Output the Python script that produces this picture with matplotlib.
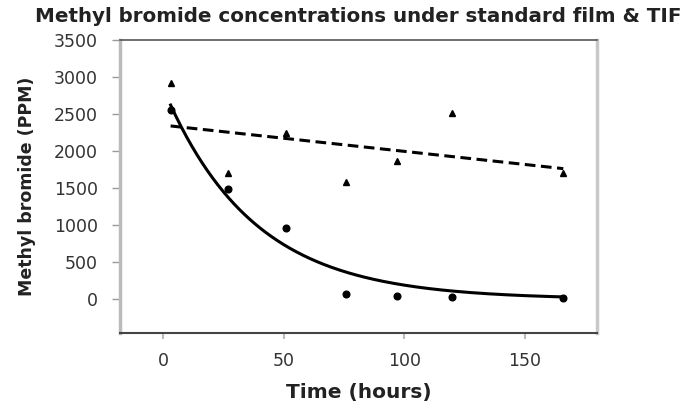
import numpy as np
import matplotlib
matplotlib.use("Agg")
import matplotlib.pyplot as plt

# Veri
saat = np.array([3, 27, 51, 76, 97, 120, 166])
tif = np.array([2923, 1707, 2247, 1581, 1869, 2509, 1707])       # üçgenler
standart = np.array([2554, 1482, 963, 77, 40, 31, 14])           # daireler

x_ticks = [0, 50, 100, 150]
y_ticks = [0, 500, 1000, 1500, 2000, 2500, 3000, 3500]

# Trend çizgileri: TIF için doğrusal, standart film için üstel
egim, kesen = np.polyfit(saat, tif, 1)

# a*exp(-k t) en küçük kareler (k için tarama, a kapalı form)
en_iyi = None
for k in np.linspace(0.001, 0.1, 2000):
    e = np.exp(-k * saat)
    a = (e @ standart) / (e @ e)
    hata = np.sum((standart - a * e) ** 2)
    if en_iyi is None or hata < en_iyi[0]:
        en_iyi = (hata, a, k)
_, a_fit, k_fit = en_iyi

t = np.linspace(saat.min(), saat.max(), 300)

fig = plt.figure(figsize=(6.93, 4.08), dpi=100)
ax = fig.add_axes([0.1732, 0.1838, 0.6883, 0.7182])

ax.plot(t, egim * t + kesen, color="black", lw=2.2, dashes=(3.5, 1.8))
ax.plot(t, a_fit * np.exp(-k_fit * t), color="black", lw=2.2)
ax.plot(saat, tif, "^", color="black", markersize=5, linestyle="none")
ax.plot(saat, standart, "o", color="black", markersize=4.8, linestyle="none")

ax.set_xlim(-18, 180)
ax.set_ylim(-455, 3500)
ax.set_xticks(x_ticks)
ax.set_yticks(y_ticks)

for lbl in ax.get_xticklabels() + ax.get_yticklabels():
    lbl.set_fontsize(12.5)
    lbl.set_color("#333333")
ax.tick_params(axis="y", direction="out", length=6, width=1, color="#999999", pad=10)
ax.tick_params(axis="x", direction="out", length=4, width=1.5, color="#bbbbbb", pad=10)

ax.spines["top"].set_color("#555555")
ax.spines["top"].set_linewidth(1.2)
ax.spines["bottom"].set_color("#444444")
ax.spines["bottom"].set_linewidth(1.5)
ax.spines["left"].set_color("#bbbbbb")
ax.spines["left"].set_linewidth(2.5)
ax.spines["right"].set_color("#c8c8c8")
ax.spines["right"].set_linewidth(2.5)

ax.set_title("Methyl bromide concentrations under standard film & TIF",
             fontsize=14.3, fontweight="bold", color="#222222", pad=13)
ax.set_xlabel("Time (hours)", fontsize=14.5, fontweight="bold", color="#222222")
ax.set_ylabel("Methyl bromide (PPM)", fontsize=12.5, fontweight="bold", color="#222222")
ax.xaxis.set_label_coords(0.5, -0.17)
ax.yaxis.set_label_coords(-0.176, 0.5)

plt.savefig("out.png", dpi=100)
